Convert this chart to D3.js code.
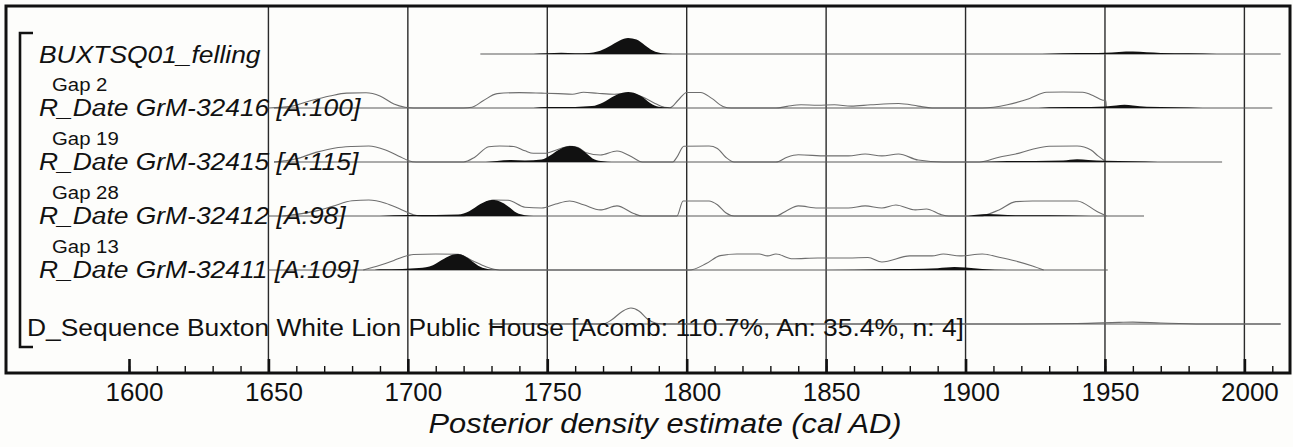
<!DOCTYPE html>
<html><head><meta charset="utf-8">
<script src="https://cdn.jsdelivr.net/npm/d3@7"></script>
<style>
html,body{margin:0;padding:0;background:#fdfdfb;}
svg{display:block;}
text{font-family:"Liberation Sans", Arial, sans-serif; fill:#111;}
</style></head><body>
<svg id="chart" width="1293" height="447"></svg>
<script>
// Rows of the OxCal multiplot, top to bottom
const rowNames = ["felling", "GrM-32416", "GrM-32415", "GrM-32412", "GrM-32411", "sequence"];
const rowLabels = [
  "BUXTSQ01_felling",
  "R_Date GrM-32416 [A:100]",
  "R_Date GrM-32415 [A:115]",
  "R_Date GrM-32412 [A:98]",
  "R_Date GrM-32411 [A:109]",
  "D_Sequence Buxton White Lion Public House [Acomb: 110.7%, An: 35.4%, n: 4]"
];
const labelItalic = [true, true, true, true, true, false];
const gapLabels = [null, "Gap 2", "Gap 19", "Gap 28", "Gap 13", null];

// Calendar range covered by each row's baseline (cal AD)
const rowSpans = [[1726, 2013], [1652, 2010], [1652, 1992], [1650, 1964], [1650, 1951], [1729, 2013]];

// Unmodelled (likelihood) distributions, [year, relative density]
const likeGrM32416 = [
  [1650,0],[1658,0.1],[1665,0.45],[1672,0.75],[1678,0.93],[1685,0.95],[1690,0.75],[1695,0.25],[1699,0.05],[1702,0],
  [1720,0],[1723,0.05],[1727,0.45],[1732,0.9],[1740,0.96],[1748,0.93],[1754,0.9],[1759,0.86],[1763,0.98],[1768,0.92],
  [1774,0.86],[1779,0.9],[1784,0.7],[1788,0.35],[1792,0.05],[1794,0.02],[1797,0.5],[1800,0.97],[1805,0.97],[1809,0.6],
  [1813,0.1],[1816,0],[1832,0],[1836,0.1],[1841,0.2],[1847,0.17],[1853,0.2],[1859,0.12],[1866,0.2],[1876,0.28],
  [1883,0.12],[1888,0],[1906,0],[1915,0.2],[1923,0.6],[1929,0.98],[1935,1.0],[1942,0.98],[1946,0.75],[1949,0.5],
  [1950.3,0.45],[1950.5,0]
];
const likeGrM32415 = [
  [1652,0],[1660,0.2],[1667,0.6],[1674,0.88],[1680,0.97],[1686,1.0],[1692,0.75],[1697,0.35],[1700,0.1],[1703,0],
  [1720,0],[1724,0.3],[1729,0.95],[1733,1.0],[1738,0.97],[1742,0.7],[1745,0.55],[1749,0.55],[1754,0.8],[1758,0.98],
  [1761,0.9],[1764,0.58],[1769,0.44],[1775,0.69],[1781,0.25],[1784,0],[1795,0],[1796.5,0.3],[1799,0.98],[1808,1.0],
  [1811,0.85],[1814,0.3],[1817,0],[1832,0],[1836,0.3],[1840,0.45],[1850,0.38],[1858,0.38],[1864,0.5],[1870,0.38],
  [1876,0.5],[1883,0.12],[1892,0],[1905,0],[1912,0.3],[1918,0.5],[1924,0.8],[1930,0.98],[1940,1.0],[1945,0.75],
  [1947.5,0.38],[1950.5,0]
];
const likeGrM32412 = [
  [1655,0],[1662,0.15],[1668,0.35],[1673,0.6],[1680,0.95],[1686,1.0],[1692,0.8],[1697,0.45],[1702,0.08],[1705,0],
  [1720,0],[1723,0.2],[1727,0.75],[1730.5,1.0],[1736,0.98],[1742,0.55],[1748,0.5],[1753,0.75],[1758,0.94],[1763,0.7],
  [1769,0.38],[1775,0.63],[1781,0.15],[1784,0],[1796.5,0],[1798.7,0.94],[1808,0.94],[1811,0.7],[1814,0.2],[1817,0],
  [1832,0],[1836,0.35],[1840,0.63],[1847,0.5],[1858,0.5],[1864,0.63],[1870,0.5],[1875,0.69],[1882,0.38],[1886,0.44],
  [1891,0.1],[1894,0],[1905,0],[1912,0.38],[1918,0.9],[1924,0.94],[1940,0.94],[1947,0.3],[1950.5,0]
];
const likeGrM32411 = [
  [1684,0],[1690,0.3],[1695,0.6],[1698,0.8],[1702,0.97],[1710,1.0],[1718,0.98],[1723,0.6],[1728,0.2],[1733,0],
  [1801,0],[1807,0.4],[1812,0.9],[1818,1.0],[1826,1.0],[1829,0.88],[1832,1.0],[1838,0.7],[1847,0.75],[1858,0.75],
  [1865,0.78],[1870,0.5],[1880,0.88],[1888,0.88],[1892,1.0],[1898,0.88],[1906,1.0],[1912,0.8],[1918,0.56],[1924,0.25],
  [1928,0]
];
const sequenceOutline = [
  [1729,0],[1770,0],[1773,0.25],[1777,0.8],[1780,1.0],[1783,0.8],[1786,0.3],[1789,0.05],[1792,0],
  [1920,0],[1940,0.03],[1955,0.1],[1960,0.12],[1970,0.06],[1985,0],[2013,0]
];

// Modelled (posterior) distributions, [year, relative density]
const postFelling = [
  [1745,0],[1750,0.05],[1755,0.08],[1760,0.05],[1765,0.07],[1768,0.15],[1772,0.45],[1776,0.85],[1779,1.0],
  [1782,0.9],[1785,0.55],[1788,0.2],[1791,0.05],[1795,0],[1925,0],[1935,0.05],[1945,0.06],[1950,0.08],[1955,0.13],
  [1960,0.15],[1965,0.11],[1970,0.07],[1980,0.04],[1990,0]
];
const postGrM32416 = [
  [1745,0],[1750,0.06],[1760,0.07],[1766,0.12],[1770,0.35],[1774,0.75],[1777,0.95],[1779,1.0],[1781,0.95],[1784,0.7],
  [1787,0.3],[1790,0.08],[1793,0.03],[1795,0],[1925,0],[1930,0.05],[1945,0.06],[1950,0.09],[1954,0.15],[1957,0.2],
  [1960,0.15],[1965,0.08],[1975,0.05],[1985,0]
];
const postGrM32415 = [
  [1728,0],[1732,0.07],[1737,0.13],[1742,0.09],[1748,0.15],[1751,0.4],[1754,0.75],[1757,0.97],[1759,1.0],[1761,0.9],
  [1764,0.55],[1767,0.15],[1770,0.04],[1773,0],[1905,0],[1915,0.06],[1925,0.07],[1935,0.1],[1940,0.17],[1944,0.12],
  [1950,0.08],[1960,0.05],[1969,0]
];
const postGrM32412 = [
  [1690,0],[1700,0.06],[1710,0.07],[1718,0.1],[1722,0.3],[1726,0.75],[1729,0.97],[1731,1.0],[1733,0.9],[1736,0.6],
  [1739,0.2],[1742,0.05],[1745,0],[1900,0],[1904,0.08],[1908,0.12],[1912,0.09],[1918,0.05],[1930,0.04],[1945,0]
];
const postGrM32411 = [
  [1688,0],[1690,0.05],[1698,0.07],[1704,0.12],[1709,0.3],[1713,0.7],[1716,0.95],[1718,1.0],[1720,0.9],[1723,0.55],
  [1726,0.2],[1729,0.05],[1733,0],[1850,0],[1870,0.05],[1880,0.06],[1890,0.11],[1896,0.18],[1900,0.15],[1906,0.07],[1915,0]
];

const outlines = [null, likeGrM32416, likeGrM32415, likeGrM32412, likeGrM32411, sequenceOutline];
const fills = [postFelling, postGrM32416, postGrM32415, postGrM32412, postGrM32411, null];

// Axis ticks
const majorYears = [1600, 1650, 1700, 1750, 1800, 1850, 1900, 1950, 2000];
const minorYears = d3.range(1600, 2011, 10);
const gridYears = [1650, 1700, 1750, 1800, 1850, 1900, 1950, 2000];
const axisTitle = "Posterior density estimate (cal AD)";

const svg = d3.select("#chart");
const frame = {left: 6, top: 6, right: 1290, bottom: 373};

const x = d3.scaleLinear().domain([1600, 2000]).range([129, 1244.4]);
const rowY = d3.scalePoint().domain(rowNames).range([54, 324]);
const h = d3.scaleLinear().domain([0, 1]).range([0, 16]);

svg.append("rect").attr("width", 1293).attr("height", 447).attr("fill", "#fdfdfb");

// vertical gridlines
svg.append("g").selectAll("line").data(gridYears).join("line")
  .attr("x1", d => x(d)).attr("x2", d => x(d))
  .attr("y1", frame.top).attr("y2", frame.bottom)
  .attr("stroke", "#2a2a2a").attr("stroke-width", 1.4);

// density plots
const g = svg.append("g");
rowNames.forEach((name, i) => {
  const base = rowY(name);
  const span = rowSpans[i];
  if (outlines[i]) {
    g.append("path").datum(outlines[i])
      .attr("d", d3.line().x(d => x(d[0])).y(d => base - h(d[1])).curve(d3.curveMonotoneX))
      .attr("fill", "none").attr("stroke", "#6e6e6e").attr("stroke-width", 1.1);
  }
  g.append("line")
    .attr("x1", x(span[0])).attr("x2", x(span[1]))
    .attr("y1", base).attr("y2", base)
    .attr("stroke", "#5a5a5a").attr("stroke-width", 1.2);
  if (fills[i]) {
    g.append("path").datum(fills[i])
      .attr("d", d3.area()
        .x(d => x(d[0])).y0(base).y1(d => base - h(d[1]))
        .curve(d3.curveMonotoneX))
      .attr("fill", "#111").attr("stroke", "none");
  }
});

// row labels
const labels = svg.append("g");
rowNames.forEach((name, i) => {
  const base = rowY(name);
  const isSeq = i === rowNames.length - 1;
  const lx = isSeq ? 27 : 39;
  const ly = isSeq ? base + 12 : (i === 0 ? base + 9 : base + 7.5);
  labels.append("text")
    .attr("transform", `translate(${lx},${ly}) scale(1.1,1)`)
    .attr("font-size", 24)
    .attr("font-style", labelItalic[i] ? "italic" : "normal")
    .text(rowLabels[i]);
  if (gapLabels[i]) {
    labels.append("text")
      .attr("transform", `translate(52,${base - 17.5}) scale(1.1,1)`)
      .attr("font-size", 18.5)
      .text(gapLabels[i]);
  }
});

// sequence bracket
svg.append("path")
  .attr("d", d3.line()([[33, 33], [20, 33], [20, 347], [33, 347]]))
  .attr("fill", "none").attr("stroke", "#111").attr("stroke-width", 2.6);

// frame
svg.append("rect")
  .attr("x", frame.left).attr("y", frame.top)
  .attr("width", frame.right - frame.left).attr("height", frame.bottom - frame.top)
  .attr("fill", "none").attr("stroke", "#111").attr("stroke-width", 3);

// axis: minor ticks, then major ticks with labels
const axisG = svg.append("g").attr("transform", `translate(0,${frame.bottom})`);
axisG.append("g")
  .call(d3.axisBottom(x).tickValues(minorYears).tickSizeInner(-7).tickSizeOuter(0).tickFormat(""))
  .call(a => a.select(".domain").remove())
  .call(a => a.selectAll(".tick line").attr("stroke", "#111").attr("stroke-width", 1.4));
axisG.append("g")
  .call(d3.axisBottom(x).tickValues(majorYears).tickSizeInner(-14).tickSizeOuter(0).tickPadding(10).tickFormat(d3.format("d")))
  .call(a => a.select(".domain").remove())
  .call(a => a.selectAll(".tick line").attr("stroke", "#111").attr("stroke-width", 2.6))
  .call(a => a.selectAll(".tick text")
    .attr("font-family", '"Liberation Sans", Arial, sans-serif')
    .attr("font-size", 26).attr("fill", "#111").attr("dx", 5));

svg.append("text")
  .attr("transform", "translate(665,433) scale(1.1,1)")
  .attr("text-anchor", "middle")
  .attr("font-size", 28).attr("font-style", "italic")
  .text(axisTitle);
</script>
</body></html>
